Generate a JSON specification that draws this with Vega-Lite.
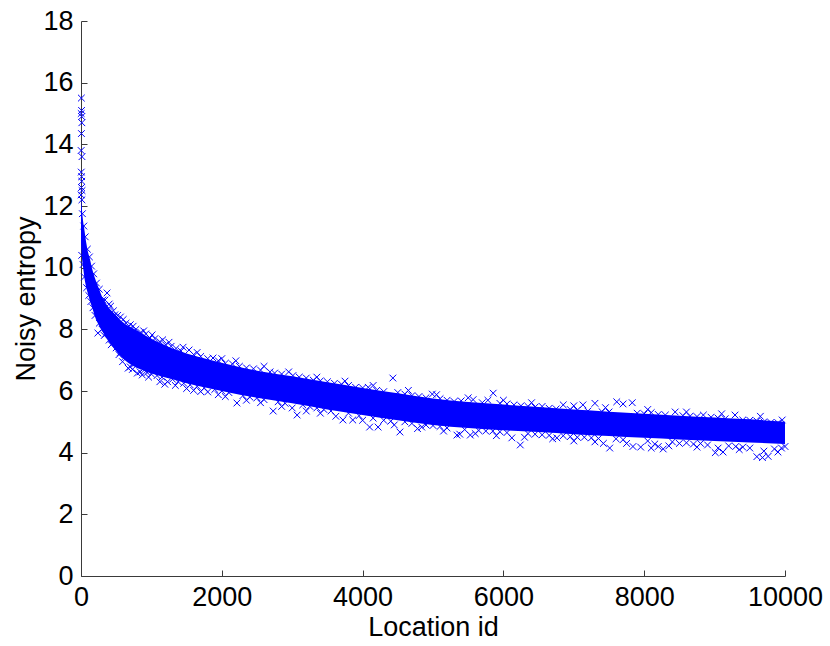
{
  "$schema": "https://vega.github.io/schema/vega-lite/v6.json",
  "width": 704,
  "height": 555,
  "autosize": "none",
  "padding": {"left": 81, "top": 21, "right": 45, "bottom": 70},
  "background": "white",
  "config": {
    "view": {"stroke": null},
    "axis": {
      "grid": false,
      "labelFont": "Liberation Sans",
      "titleFont": "Liberation Sans",
      "labelFontSize": 27,
      "titleFontSize": 27,
      "titleFontWeight": "normal",
      "labelColor": "#000000",
      "titleColor": "#000000",
      "domainColor": "#3a3a3a",
      "tickColor": "#3a3a3a",
      "tickSize": -6,
      "labelPadding": 14,
      "labelFlush": false,
      "labelOverlap": false
    }
  },
  "datasets": {
    "band": [
      {"x": 0, "lo": 10.8, "hi": 12.35},
      {"x": 10, "lo": 10.4, "hi": 12.0},
      {"x": 25, "lo": 10.1, "hi": 11.6},
      {"x": 50, "lo": 9.65, "hi": 11.2},
      {"x": 75, "lo": 9.35, "hi": 10.8},
      {"x": 100, "lo": 9.15, "hi": 10.5},
      {"x": 130, "lo": 8.9, "hi": 10.25},
      {"x": 160, "lo": 8.7, "hi": 9.95},
      {"x": 200, "lo": 8.4, "hi": 9.65},
      {"x": 250, "lo": 8.15, "hi": 9.35},
      {"x": 300, "lo": 7.95, "hi": 9.05},
      {"x": 380, "lo": 7.65, "hi": 8.75},
      {"x": 480, "lo": 7.35, "hi": 8.5},
      {"x": 600, "lo": 7.05, "hi": 8.22},
      {"x": 750, "lo": 6.8, "hi": 8.02},
      {"x": 900, "lo": 6.65, "hi": 7.82},
      {"x": 1100, "lo": 6.5, "hi": 7.58},
      {"x": 1300, "lo": 6.38, "hi": 7.38},
      {"x": 1500, "lo": 6.25, "hi": 7.22},
      {"x": 1800, "lo": 6.1, "hi": 7.03},
      {"x": 2100, "lo": 5.95, "hi": 6.86},
      {"x": 2500, "lo": 5.78, "hi": 6.66},
      {"x": 3000, "lo": 5.6, "hi": 6.48},
      {"x": 3500, "lo": 5.4, "hi": 6.28},
      {"x": 4000, "lo": 5.22, "hi": 6.1},
      {"x": 4500, "lo": 5.05, "hi": 5.93},
      {"x": 5000, "lo": 4.9, "hi": 5.76},
      {"x": 5500, "lo": 4.8, "hi": 5.64},
      {"x": 6000, "lo": 4.73, "hi": 5.56},
      {"x": 6500, "lo": 4.67, "hi": 5.48},
      {"x": 7000, "lo": 4.6, "hi": 5.4},
      {"x": 7500, "lo": 4.54, "hi": 5.33},
      {"x": 8000, "lo": 4.48, "hi": 5.26},
      {"x": 8500, "lo": 4.43, "hi": 5.2},
      {"x": 9000, "lo": 4.38, "hi": 5.14},
      {"x": 9500, "lo": 4.33, "hi": 5.08},
      {"x": 10000, "lo": 4.28, "hi": 5.0}
    ],
    "pts": [
      {"x": 3, "y": 15.0}, {"x": 5, "y": 15.5}, {"x": 8, "y": 15.1}, {"x": 10, "y": 14.9}, {"x": 12, "y": 14.7},
      {"x": 6, "y": 14.35}, {"x": 2, "y": 13.8}, {"x": 14, "y": 13.6}, {"x": 4, "y": 13.1}, {"x": 9, "y": 12.95},
      {"x": 11, "y": 12.8}, {"x": 7, "y": 12.6}, {"x": 15, "y": 12.5}, {"x": 1, "y": 12.36}, {"x": 13, "y": 12.2},
      {"x": 20, "y": 11.75}, {"x": 40, "y": 11.35}, {"x": 60, "y": 11.0}, {"x": 90, "y": 10.6}, {"x": 120, "y": 10.35},
      {"x": 150, "y": 10.05}, {"x": 180, "y": 9.8}, {"x": 220, "y": 9.5}, {"x": 260, "y": 9.3}, {"x": 310, "y": 8.95},
      {"x": 370, "y": 9.18}, {"x": 340, "y": 8.95}, {"x": 420, "y": 8.75}, {"x": 460, "y": 8.6}, {"x": 480, "y": 8.47},
      {"x": 520, "y": 8.45}, {"x": 560, "y": 8.4}, {"x": 640, "y": 8.2}, {"x": 700, "y": 8.15}, {"x": 780, "y": 8.0},
      {"x": 850, "y": 7.9}, {"x": 920, "y": 7.85}, {"x": 980, "y": 7.72}, {"x": 1050, "y": 7.7}, {"x": 1120, "y": 7.6},
      {"x": 1200, "y": 7.5}, {"x": 1280, "y": 7.45}, {"x": 1350, "y": 7.38}, {"x": 1420, "y": 7.3}, {"x": 1535, "y": 7.33},
      {"x": 1600, "y": 7.18}, {"x": 1700, "y": 7.12}, {"x": 1800, "y": 7.05}, {"x": 1875, "y": 7.07}, {"x": 1950, "y": 6.98},
      {"x": 2050, "y": 6.9}, {"x": 2150, "y": 6.88}, {"x": 2250, "y": 6.8}, {"x": 2350, "y": 6.75}, {"x": 2450, "y": 6.72},
      {"x": 2550, "y": 6.68}, {"x": 2685, "y": 6.62}, {"x": 2750, "y": 6.58}, {"x": 2850, "y": 6.55}, {"x": 3010, "y": 6.5},
      {"x": 3100, "y": 6.45}, {"x": 3200, "y": 6.42}, {"x": 3300, "y": 6.35}, {"x": 3400, "y": 6.33}, {"x": 3500, "y": 6.3},
      {"x": 3600, "y": 6.25}, {"x": 3700, "y": 6.22}, {"x": 3800, "y": 6.18}, {"x": 3900, "y": 6.12}, {"x": 4000, "y": 6.1},
      {"x": 4080, "y": 6.12}, {"x": 4200, "y": 6.02}, {"x": 4300, "y": 5.98}, {"x": 4430, "y": 6.42}, {"x": 4500, "y": 5.95},
      {"x": 4600, "y": 5.9}, {"x": 4700, "y": 5.85}, {"x": 4800, "y": 5.82}, {"x": 4900, "y": 5.78}, {"x": 4990, "y": 5.9},
      {"x": 5100, "y": 5.75}, {"x": 5200, "y": 5.7}, {"x": 5300, "y": 5.66}, {"x": 5400, "y": 5.68}, {"x": 5570, "y": 5.72},
      {"x": 5700, "y": 5.62}, {"x": 5780, "y": 5.7}, {"x": 5855, "y": 5.93}, {"x": 5950, "y": 5.6}, {"x": 6050, "y": 5.58},
      {"x": 6150, "y": 5.55}, {"x": 6250, "y": 5.52}, {"x": 6350, "y": 5.5}, {"x": 6450, "y": 5.48}, {"x": 6550, "y": 5.5},
      {"x": 6650, "y": 5.44}, {"x": 6750, "y": 5.42}, {"x": 6850, "y": 5.55}, {"x": 6950, "y": 5.4}, {"x": 7050, "y": 5.38},
      {"x": 7130, "y": 5.55}, {"x": 7200, "y": 5.35}, {"x": 7300, "y": 5.6}, {"x": 7400, "y": 5.33}, {"x": 7500, "y": 5.32},
      {"x": 7610, "y": 5.65}, {"x": 7700, "y": 5.58}, {"x": 7830, "y": 5.62}, {"x": 7900, "y": 5.28}, {"x": 8000, "y": 5.26},
      {"x": 8100, "y": 5.3}, {"x": 8200, "y": 5.24}, {"x": 8300, "y": 5.22}, {"x": 8440, "y": 5.32}, {"x": 8550, "y": 5.2},
      {"x": 8650, "y": 5.18}, {"x": 8750, "y": 5.17}, {"x": 8840, "y": 5.22}, {"x": 8950, "y": 5.15}, {"x": 9050, "y": 5.12},
      {"x": 9150, "y": 5.1}, {"x": 9290, "y": 5.22}, {"x": 9400, "y": 5.06}, {"x": 9500, "y": 5.05}, {"x": 9600, "y": 5.03},
      {"x": 9700, "y": 5.0}, {"x": 9800, "y": 4.98}, {"x": 9900, "y": 4.97}, {"x": 9960, "y": 5.06},
      {"x": 10, "y": 10.4}, {"x": 30, "y": 10.1}, {"x": 50, "y": 9.7}, {"x": 80, "y": 9.35}, {"x": 110, "y": 9.1},
      {"x": 140, "y": 8.9}, {"x": 170, "y": 8.7}, {"x": 200, "y": 8.45}, {"x": 240, "y": 7.88}, {"x": 260, "y": 8.2},
      {"x": 300, "y": 8.0}, {"x": 350, "y": 7.85}, {"x": 400, "y": 7.65}, {"x": 450, "y": 7.55}, {"x": 500, "y": 7.4},
      {"x": 560, "y": 7.25}, {"x": 620, "y": 7.1}, {"x": 670, "y": 6.74}, {"x": 700, "y": 6.78}, {"x": 760, "y": 6.88},
      {"x": 840, "y": 6.62}, {"x": 900, "y": 6.68}, {"x": 940, "y": 6.6}, {"x": 1000, "y": 6.55}, {"x": 1080, "y": 6.5},
      {"x": 1150, "y": 6.45}, {"x": 1230, "y": 6.3}, {"x": 1300, "y": 6.38}, {"x": 1380, "y": 6.3}, {"x": 1460, "y": 6.25},
      {"x": 1550, "y": 6.2}, {"x": 1650, "y": 6.15}, {"x": 1750, "y": 6.1}, {"x": 1800, "y": 5.97}, {"x": 1900, "y": 6.05},
      {"x": 2000, "y": 6.0}, {"x": 2100, "y": 5.95}, {"x": 2215, "y": 5.61}, {"x": 2300, "y": 5.85}, {"x": 2400, "y": 5.8},
      {"x": 2500, "y": 5.78}, {"x": 2600, "y": 5.72}, {"x": 2730, "y": 5.35}, {"x": 2800, "y": 5.65}, {"x": 2900, "y": 5.6},
      {"x": 3070, "y": 5.22}, {"x": 3150, "y": 5.55}, {"x": 3250, "y": 5.5}, {"x": 3350, "y": 5.45}, {"x": 3450, "y": 5.4},
      {"x": 3550, "y": 5.35}, {"x": 3720, "y": 5.06}, {"x": 3800, "y": 5.28}, {"x": 3860, "y": 5.06}, {"x": 3950, "y": 5.2},
      {"x": 4100, "y": 4.83}, {"x": 4150, "y": 5.12}, {"x": 4220, "y": 4.83}, {"x": 4300, "y": 5.05}, {"x": 4400, "y": 5.02},
      {"x": 4530, "y": 4.67}, {"x": 4600, "y": 5.0}, {"x": 4700, "y": 4.95}, {"x": 4840, "y": 4.83}, {"x": 4900, "y": 4.9},
      {"x": 5000, "y": 4.88}, {"x": 5100, "y": 4.85}, {"x": 5200, "y": 4.8}, {"x": 5340, "y": 4.57}, {"x": 5380, "y": 4.6},
      {"x": 5450, "y": 4.75}, {"x": 5530, "y": 4.57}, {"x": 5650, "y": 4.72}, {"x": 5750, "y": 4.7}, {"x": 5850, "y": 4.7},
      {"x": 5950, "y": 4.68}, {"x": 6050, "y": 4.65}, {"x": 6120, "y": 4.48}, {"x": 6240, "y": 4.25}, {"x": 6350, "y": 4.62},
      {"x": 6450, "y": 4.6}, {"x": 6550, "y": 4.58}, {"x": 6650, "y": 4.56}, {"x": 6760, "y": 4.48}, {"x": 6850, "y": 4.55},
      {"x": 6950, "y": 4.52}, {"x": 7050, "y": 4.5}, {"x": 7150, "y": 4.5}, {"x": 7250, "y": 4.48}, {"x": 7350, "y": 4.46},
      {"x": 7420, "y": 4.3}, {"x": 7510, "y": 4.15}, {"x": 7600, "y": 4.45}, {"x": 7700, "y": 4.42}, {"x": 7840, "y": 4.2},
      {"x": 7950, "y": 4.18}, {"x": 8050, "y": 4.38}, {"x": 8100, "y": 4.15}, {"x": 8200, "y": 4.2}, {"x": 8270, "y": 4.12},
      {"x": 8400, "y": 4.35}, {"x": 8500, "y": 4.3}, {"x": 8600, "y": 4.32}, {"x": 8700, "y": 4.28}, {"x": 8800, "y": 4.3},
      {"x": 8900, "y": 4.25}, {"x": 9010, "y": 4.0}, {"x": 9120, "y": 4.02}, {"x": 9200, "y": 4.22}, {"x": 9300, "y": 4.2},
      {"x": 9400, "y": 4.18}, {"x": 9500, "y": 4.15}, {"x": 9600, "y": 3.87}, {"x": 9680, "y": 3.84}, {"x": 9760, "y": 3.88},
      {"x": 9850, "y": 4.12}, {"x": 9950, "y": 4.15}, {"x": 10000, "y": 4.2},
      {"x": 330, "y": 7.8}, {"x": 430, "y": 7.5}, {"x": 540, "y": 7.18}, {"x": 590, "y": 6.95}, {"x": 730, "y": 6.7},
      {"x": 800, "y": 6.58}, {"x": 870, "y": 6.52}, {"x": 960, "y": 6.45}, {"x": 1120, "y": 6.3}, {"x": 1190, "y": 6.22},
      {"x": 1340, "y": 6.18}, {"x": 1500, "y": 6.08}, {"x": 1600, "y": 6.02}, {"x": 1700, "y": 5.98}, {"x": 1950, "y": 5.88},
      {"x": 2050, "y": 5.82}, {"x": 2350, "y": 5.7}, {"x": 2550, "y": 5.62}, {"x": 2850, "y": 5.5}, {"x": 3000, "y": 5.45},
      {"x": 3200, "y": 5.35}, {"x": 3400, "y": 5.28}, {"x": 3620, "y": 5.18}, {"x": 4000, "y": 5.05}, {"x": 4450, "y": 4.9},
      {"x": 4780, "y": 4.78}, {"x": 5150, "y": 4.7}, {"x": 5600, "y": 4.62}, {"x": 5900, "y": 4.55}, {"x": 6300, "y": 4.5},
      {"x": 6700, "y": 4.45}, {"x": 7000, "y": 4.38}, {"x": 7300, "y": 4.35}, {"x": 7750, "y": 4.3}, {"x": 8150, "y": 4.28},
      {"x": 8350, "y": 4.22}, {"x": 8750, "y": 4.18}, {"x": 9050, "y": 4.15}, {"x": 9350, "y": 4.1}, {"x": 9700, "y": 4.05},
      {"x": 9900, "y": 4.02},
      {"x": 400, "y": 8.82}, {"x": 600, "y": 8.32}, {"x": 740, "y": 8.1}, {"x": 890, "y": 7.95}, {"x": 1010, "y": 7.82},
      {"x": 1160, "y": 7.66}, {"x": 1250, "y": 7.58}, {"x": 1450, "y": 7.42}, {"x": 1650, "y": 7.25}, {"x": 2000, "y": 7.05},
      {"x": 2200, "y": 6.98}, {"x": 2600, "y": 6.8}, {"x": 2950, "y": 6.62}, {"x": 3350, "y": 6.45}, {"x": 3750, "y": 6.32},
      {"x": 4150, "y": 6.18}, {"x": 4650, "y": 6.02}, {"x": 5050, "y": 5.88}, {"x": 5500, "y": 5.78}, {"x": 6000, "y": 5.7},
      {"x": 6400, "y": 5.62}, {"x": 7000, "y": 5.52}, {"x": 7450, "y": 5.46}, {"x": 8050, "y": 5.4}, {"x": 8600, "y": 5.32},
      {"x": 9100, "y": 5.26}, {"x": 9650, "y": 5.18}
    ]
  },
  "layer": [
    {
      "data": {"name": "band"},
      "mark": {"type": "area", "color": "#0000ff", "opacity": 1, "interpolate": "monotone"},
      "encoding": {
        "x": {"field": "x", "type": "quantitative", "scale": {"domain": [0, 10000], "nice": false},
          "axis": {"title": "Location id", "values": [0, 2000, 4000, 6000, 8000, 10000], "format": "d", "titlePadding": 4}},
        "y": {"field": "lo", "type": "quantitative", "scale": {"domain": [0, 18], "nice": false},
          "axis": {"title": "Noisy entropy", "values": [0, 2, 4, 6, 8, 10, 12, 14, 16, 18], "titlePadding": 2}},
        "y2": {"field": "hi"}
      }
    },
    {
      "data": {"name": "pts"},
      "mark": {"type": "point", "shape": "M-1,-1L1,1M1,-1L-1,1", "filled": false, "color": "#0000ff", "strokeWidth": 1, "size": 45, "opacity": 1},
      "encoding": {
        "x": {"field": "x", "type": "quantitative"},
        "y": {"field": "y", "type": "quantitative"}
      }
    }
  ]
}
